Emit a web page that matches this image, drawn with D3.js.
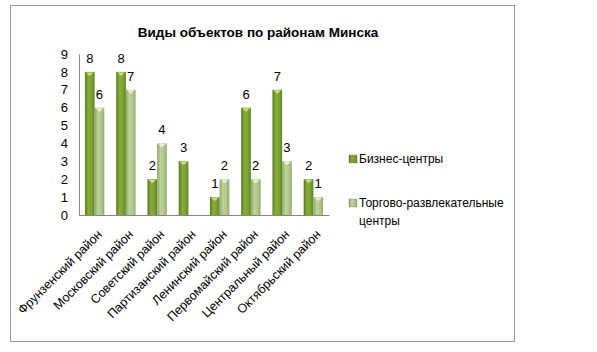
<!DOCTYPE html>
<html>
<head>
<meta charset="utf-8">
<script src="https://cdn.jsdelivr.net/npm/d3@7"></script>
<style>
  body { margin: 0; background: #fff; }
  text { font-family: "Liberation Sans", Arial, sans-serif; }
</style>
</head>
<body>
<div id="chart"></div>
<script>
// data
const districts = ["Фрунзенский район", "Московский район", "Советский район", "Партизанский район",
  "Ленинский район", "Первомайский район", "Центральный район", "Октябрьский район"];
const business = [8, 8, 2, 3, 1, 6, 7, 2];
const shopping = [6, 7, 4, null, 2, 2, 3, 1];
const seriesNames = ["Бизнес-центры", "Торгово-развлекательные центры"];
const yTicks = [0, 1, 2, 3, 4, 5, 6, 7, 8, 9];

const W = 597, H = 352;
const svg = d3.select("#chart").append("svg").attr("width", W).attr("height", H);

// gradients for the bars
const defs = svg.append("defs");
function grad(id, stops) {
  const g = defs.append("linearGradient").attr("id", id).attr("x1", "0").attr("x2", "1").attr("y1", "0").attr("y2", "0");
  stops.forEach(s => g.append("stop").attr("offset", s[0]).attr("stop-color", s[1]));
}
grad("gDark", [[0, "#5a7b20"], [0.35, "#86ad3b"], [0.7, "#7ca333"], [1, "#5f8224"]]);
grad("gLight", [[0, "#8fa66a"], [0.35, "#bdd49a"], [0.7, "#b0c88b"], [1, "#93aa70"]]);

// outer frame
svg.append("rect").attr("x", 10.5).attr("y", 5.5).attr("width", 504).attr("height", 336)
  .attr("fill", "#fff").attr("stroke", "#9a9a9a").attr("stroke-width", 1);

svg.append("text").attr("x", 258).attr("y", 37).attr("text-anchor", "middle")
  .style("font-size", "13.5px").style("font-weight", "bold").text("Виды объектов по районам Минска");

const margin = {left: 79, top: 54, right: 329, bottom: 215};

const x = d3.scaleBand().domain(districts).range([margin.left, margin.right]).paddingInner(0.38).paddingOuter(0.19);
const xs = d3.scaleBand().domain([0, 1]).range([0, x.bandwidth()]);
const y = d3.scaleLinear().domain([0, 9]).range([margin.bottom, margin.top]);

// y axis
const yAxis = svg.append("g").attr("transform", `translate(${margin.left},0)`)
  .call(d3.axisLeft(y).tickValues(yTicks).tickSize(0).tickPadding(11));
yAxis.select(".domain").attr("stroke", "#868686");
yAxis.selectAll("text").style("font-size", "13px").attr("fill", "#000").style("font-family", "Liberation Sans, Arial, sans-serif");

// bars
const series = [business, shopping];
const fills = ["url(#gDark)", "url(#gLight)"];
const caps = ["#c6e07c", "#e8f2c8"];
series.forEach((vals, si) => {
  const g = svg.append("g");
  const rows = districts.map((d, i) => ({d, v: vals[i]})).filter(r => r.v != null);
  g.selectAll("rect").data(rows).enter().append("rect")
    .attr("x", r => x(r.d) + xs(si))
    .attr("y", r => y(r.v))
    .attr("width", xs.bandwidth())
    .attr("height", r => y(0) - y(r.v))
    .attr("fill", fills[si]);
  // bevel on the top of each bar
  g.selectAll("path").data(rows).enter().append("path")
    .attr("d", r => {
      const x0 = x(r.d) + xs(si), w = xs.bandwidth(), y0 = y(r.v);
      return `M${x0 + 1},${y0 + 0.5} L${x0 + w - 1},${y0 + 0.5} L${x0 + w / 2},${y0 + 4} Z`;
    })
    .attr("fill", caps[si]);
  g.selectAll("text").data(rows).enter().append("text")
    .attr("x", r => x(r.d) + xs(si) + xs.bandwidth() / 2)
    .attr("y", r => y(r.v) - 9)
    .attr("text-anchor", "middle")
    .style("font-size", "13px")
    .text(r => r.v);
});

// x axis
const xAxis = svg.append("g").attr("transform", `translate(0,${margin.bottom})`)
  .call(d3.axisBottom(x).tickSize(0).tickSizeOuter(0).tickFormat(""));
xAxis.select(".domain").attr("stroke", "#868686");

svg.append("g").selectAll("text").data(districts).enter().append("text")
  .attr("transform", d => `translate(${x(d) + x.bandwidth() / 2 + 5},${margin.bottom + 17}) rotate(-45)`)
  .attr("text-anchor", "end")
  .attr("dy", "0.35em")
  .style("font-size", "12.5px")
  .text(d => d);

// legend
const legend = svg.append("g");
const legY = [159, 203];
seriesNames.forEach((name, i) => {
  legend.append("rect").attr("x", 349).attr("y", legY[i] - 4).attr("width", 8).attr("height", 8)
    .attr("fill", fills[i]).attr("stroke", "#6a6a6a").attr("stroke-width", 0.3);
});
legend.append("text").attr("x", 359).attr("y", legY[0]).attr("dy", "0.35em").style("font-size", "12px").text(seriesNames[0]);
const t2 = legend.append("text").attr("x", 359).attr("y", legY[1]).attr("dy", "0.35em").style("font-size", "12px");
t2.append("tspan").attr("x", 359).text("Торгово-развлекательные");
t2.append("tspan").attr("x", 359).attr("dy", "18").text("центры");
</script>
</body>
</html>
